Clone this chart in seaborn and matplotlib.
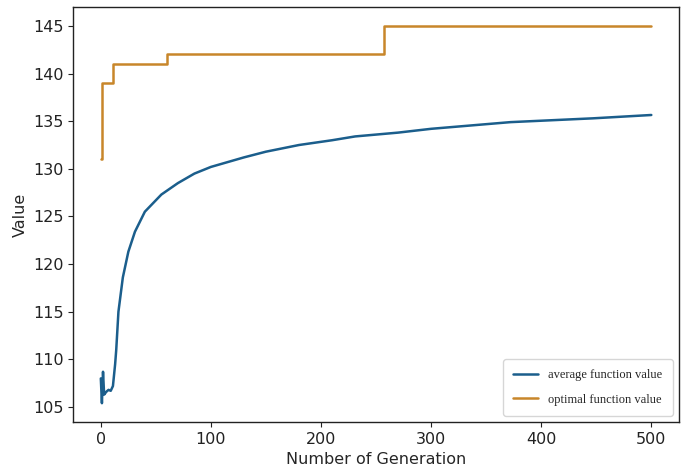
import pandas as pd
import matplotlib
matplotlib.use('Agg')
import matplotlib.pyplot as plt
import seaborn as sns

# average function value per generation
avg_gen = [0, 1, 2, 3, 5, 7, 9, 11, 13, 14, 16, 20, 25, 31, 40, 55, 70, 85,
           100, 115, 130, 150, 180, 210, 231, 270, 300, 372, 447, 500]
avg_val = [108.0, 105.4, 108.7, 106.3, 106.6, 106.8, 106.7, 107.2, 109.5, 111.0,
           115.0, 118.6, 121.3, 123.4, 125.5, 127.3, 128.5, 129.5, 130.2, 130.7,
           131.2, 131.8, 132.5, 133.0, 133.4, 133.8, 134.2, 134.9, 135.3, 135.65]

# optimal function value (step changes)
opt_gen = [0, 1, 11, 60, 257, 500]
opt_val = [131.0, 139.0, 141.0, 142.0, 145.0, 145.0]

avg_df = pd.DataFrame({'gen': avg_gen, 'value': avg_val})
opt_df = pd.DataFrame({'gen': opt_gen, 'value': opt_val})

sns.set_style('ticks')
plt.rcParams['font.family'] = ['DejaVu Sans']

fig = plt.figure(figsize=(6.85, 4.70), dpi=100)
ax = fig.add_axes([0.107, 0.102, 0.884, 0.883])

sns.lineplot(data=avg_df, x='gen', y='value', ax=ax, color='#1b5e8c',
             linewidth=1.8, label='average function value')
sns.lineplot(data=opt_df, x='gen', y='value', ax=ax, color='#c8862a',
             linewidth=1.8, drawstyle='steps-post', label='optimal function value')

ax.set_xlabel('Number of Generation', fontsize=11.5)
ax.set_ylabel('Value', fontsize=11.5)
ax.set_xticks([0, 100, 200, 300, 400, 500])
ax.set_yticks([105, 110, 115, 120, 125, 130, 135, 140, 145])
ax.tick_params(labelsize=11.5, colors='#222222')
for s in ax.spines.values():
    s.set_color('#222222')
    s.set_linewidth(1.0)

ax.legend(loc='lower right', prop={'family': 'Liberation Serif', 'size': 9},
          frameon=True, edgecolor='#cccccc', borderpad=0.8, labelspacing=1.0)

fig.savefig('out.png', dpi=100)
